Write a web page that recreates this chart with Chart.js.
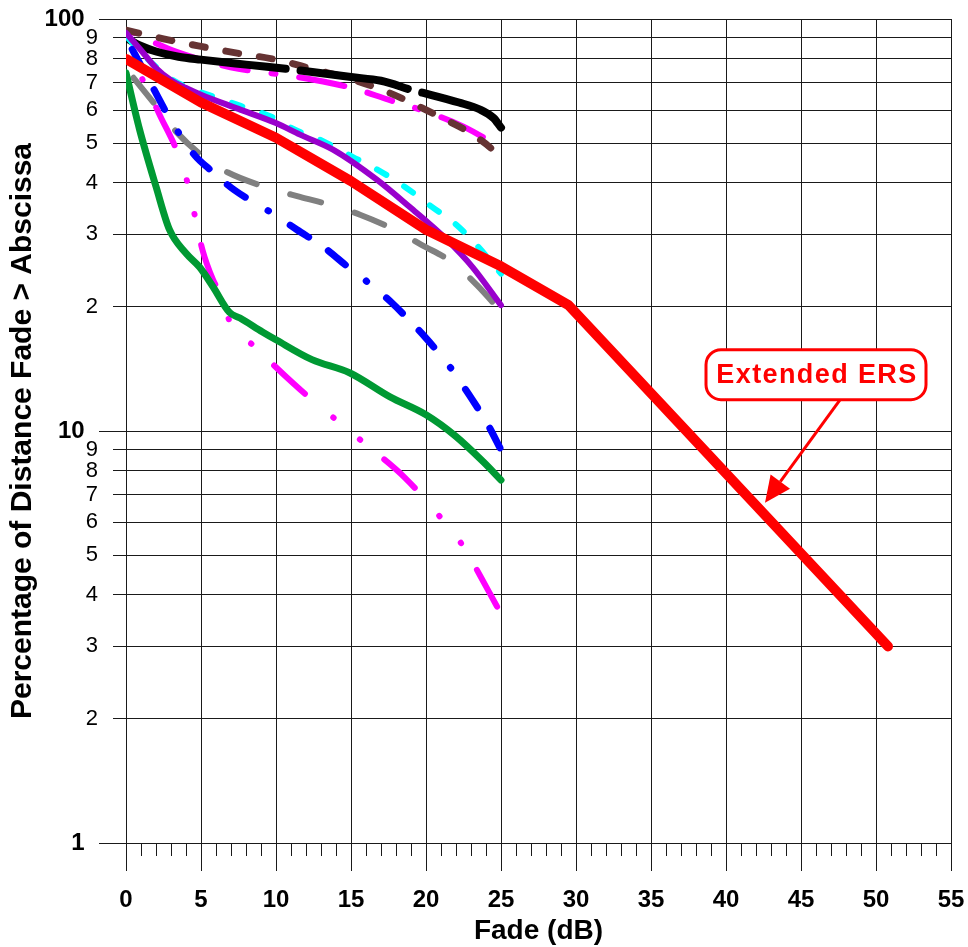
<!DOCTYPE html>
<html>
<head>
<meta charset="utf-8">
<title>Fade distribution</title>
<script src="https://cdn.jsdelivr.net/npm/chart.js@4.4.1/dist/chart.umd.min.js"></script>
<style>
  html, body { margin: 0; padding: 0; background: #fff; }
  canvas { display: block; }
</style>
</head>
<body>
<canvas id="fadeChart" width="968" height="947"></canvas>
<script>
// Fade (dB) and % of distance with fade greater than that value, one pair per curve
const ersFade = [0, 5, 10, 15, 20, 25, 29.5, 50.8];
const ersPct = [80, 62.7, 51.5, 40.4, 30.8, 25.1, 20.2, 3];

const blackFade = [0, 1, 2, 3.5, 5, 8, 11.2, 15, 17, 19.2, 20, 22.2, 23.6, 24.5, 25];
const blackPct = [90, 86, 83.4, 81, 79.7, 77.5, 75.3, 72.3, 70.8, 67, 65.9, 62.7, 60.3, 57.5, 54.5];

const brownFade = [0, 2.5, 5, 7.5, 10, 12.5, 15, 17.2, 18.8, 20.9, 22.9, 24.7, 25];
const brownPct = [94, 89.5, 85.8, 82.5, 79.7, 75.5, 71.5, 67, 63.2, 57.9, 53, 47.1, 45.5];

const pinkFade = [0, 1.5, 3, 5, 7.5, 10, 12.5, 15, 17.5, 20, 22.5, 25];
const pinkPct = [94.5, 89, 84.2, 79.7, 75.7, 73.6, 71.2, 68.1, 63.7, 59.6, 54.8, 48.7];

const cyanFade = [0, 1, 2, 3, 4, 4.9, 7.6, 9.7, 11.2, 13.2, 15.1, 16.9, 18.6, 20.3, 22, 23.4, 25];
const cyanPct = [91, 83, 76.5, 71.5, 68.5, 66.6, 61.6, 57.9, 54, 50.4, 46.3, 42.8, 39.1, 35.2, 31.7, 28.2, 24.1];

const purpleFade = [0, 1, 2, 3, 4, 5, 7.5, 10, 11.6, 13.8, 16.7, 18.9, 21.4, 23.1, 25];
const purplePct = [92.5, 84, 76, 71, 68, 65.5, 60.5, 55.9, 52.4, 48.2, 40.8, 35, 29.1, 25, 20.2];

const grayFade = [0.5, 2.2, 3.4, 5.4, 6.8, 9.2, 11.6, 13.6, 15.6, 17.9, 19.7, 21.8, 23.4, 25];
const grayPct = [72, 60.3, 53, 45.6, 42.4, 39.2, 37, 35.4, 33.5, 30.8, 28.3, 25.6, 22.6, 19.5];

const blueFade = [0, 1.8, 2.9, 4.6, 5.6, 7.2, 9.4, 11.4, 13.2, 14.8, 15.9, 17.7, 20, 21.6, 22.9, 24.1, 25];
const bluePct = [90, 68.1, 57.5, 46.6, 43.1, 38.5, 34.4, 30.8, 27.9, 25, 23.3, 20.5, 16.8, 14.3, 12.2, 10.4, 9];

const magentaFade = [0, 0.7, 2.2, 3.9, 4.4, 5.1, 5.8, 6.4, 6.9, 8.6, 11.2, 12.4, 14, 15.8, 18.6, 21, 22.4, 24.2, 25];
const magentaPct = [84, 76, 59, 42.6, 35.8, 27.5, 23.3, 21.2, 18.5, 16, 13, 11.9, 10.65, 9.4, 7.7, 6.15, 5.3, 4.07, 3.6];

const greenFade = [0, 0.9, 2, 2.9, 4, 4.9, 5.8, 6.9, 7.6, 9.1, 10, 12.4, 14.9, 17.6, 20, 22, 23.8, 25];
const greenPct = [74, 54, 39.2, 30.8, 27, 25, 22.4, 19.4, 18.8, 17.4, 16.65, 14.9, 13.85, 12.1, 10.95, 9.7, 8.43, 7.6];

// axis ticks
const xTicks = [0, 5, 10, 15, 20, 25, 30, 35, 40, 45, 50, 55];
const yTicks = [1, 2, 3, 4, 5, 6, 7, 8, 9, 10, 20, 30, 40, 50, 60, 70, 80, 90, 100];
const yDecades = [1, 10, 100];

// callout for the extended curve (box centre, arrow start, arrow tip)
const calloutText = 'Extended ERS';
const calloutAt = { fade: 46, pct: 13.7 };
const arrowFrom = { fade: 47.6, pct: 11.9 };
const arrowTo = { fade: 42.6, pct: 6.7 };

const FONT = "'Liberation Sans', Arial, Helvetica, sans-serif";
const GRID = '#1a1a1a';

function toPoints(xs, ys) {
    return xs.map((x, i) => ({ x: x, y: ys[i] }));
}

function curve(xs, ys, color, width, dash, dashOffset, smooth) {
    return {
        data: toPoints(xs, ys),
        borderColor: color,
        backgroundColor: color,
        borderWidth: width,
        borderDash: dash,
        borderDashOffset: dashOffset,
        borderCapStyle: 'round',
        borderJoinStyle: 'round',
        cubicInterpolationMode: smooth ? 'monotone' : 'default',
        tension: 0,
        pointRadius: 0,
        fill: false
    };
}

function snap(p) {
    return Math.round(p - 0.5) + 0.5;
}

// keep the plot box fixed: no extra room for overhanging tick labels
function noOverhang(s) {
    s.paddingLeft = 0;
    s.paddingRight = 0;
    s.paddingTop = 0;
    s.paddingBottom = 0;
}

// short tick marks under the x axis (every dB) and left of the y axis
const axisTicks = {
    id: 'axisTicks',
    afterDraw(chart) {
        const { ctx, chartArea, scales } = chart;
        ctx.save();
        ctx.strokeStyle = GRID;
        ctx.lineWidth = 1;
        ctx.beginPath();
        for (let v = 0; v <= 55; v++) {
            const px = snap(scales.x.getPixelForValue(v));
            const len = v % 5 === 0 ? 28 : 13;
            ctx.moveTo(px, chartArea.bottom);
            ctx.lineTo(px, chartArea.bottom + len);
        }
        yTicks.forEach(v => {
            const py = snap(scales.y.getPixelForValue(v));
            const len = yDecades.includes(v) ? 27 : 13;
            ctx.moveTo(chartArea.left - len, py);
            ctx.lineTo(chartArea.left, py);
        });
        ctx.stroke();
        ctx.restore();
    }
};

// rounded label with an arrow pointing at the red curve
const callout = {
    id: 'callout',
    afterDatasetsDraw(chart) {
        const { ctx, scales: { x, y } } = chart;
        const cx = x.getPixelForValue(calloutAt.fade), cy = y.getPixelForValue(calloutAt.pct);
        const ax = x.getPixelForValue(arrowFrom.fade), ay = y.getPixelForValue(arrowFrom.pct);
        const tx = x.getPixelForValue(arrowTo.fade), ty = y.getPixelForValue(arrowTo.pct);
        const ang = Math.atan2(ty - ay, tx - ax);
        const headLen = 26, headHalf = 12;
        const bx = tx - headLen * Math.cos(ang), by = ty - headLen * Math.sin(ang);

        ctx.save();
        ctx.strokeStyle = '#ff0000';
        ctx.fillStyle = '#ff0000';
        ctx.lineWidth = 3;
        ctx.beginPath();
        ctx.moveTo(ax, ay);
        ctx.lineTo(bx, by);
        ctx.stroke();
        ctx.beginPath();
        ctx.moveTo(tx, ty);
        ctx.lineTo(bx + headHalf * Math.sin(ang), by - headHalf * Math.cos(ang));
        ctx.lineTo(bx - headHalf * Math.sin(ang), by + headHalf * Math.cos(ang));
        ctx.closePath();
        ctx.fill();

        const w = 220, h = 50;
        ctx.beginPath();
        ctx.roundRect(cx - w / 2, cy - h / 2, w, h, 15);
        ctx.fillStyle = '#ffffff';
        ctx.fill();
        ctx.stroke();
        ctx.fillStyle = '#ff0000';
        ctx.font = 'bold 27px ' + FONT;
        ctx.letterSpacing = '1.4px';
        ctx.textAlign = 'center';
        ctx.textBaseline = 'middle';
        ctx.fillText(calloutText, cx + 1, cy + 1);
        ctx.restore();
    }
};

const ctx = document.getElementById('fadeChart').getContext('2d');
new Chart(ctx, {
    type: 'line',
    data: {
        // first dataset ends up on top
        datasets: [
            curve(ersFade, ersPct, '#ff0000', 10, [], 0, false),
            curve(purpleFade, purplePct, '#9900cc', 6, [], 0, true),
            curve(greenFade, greenPct, '#009933', 7, [], 0, true),
            curve(blueFade, bluePct, '#0000ff', 7, [22, 24, 22, 26.5, 0.5, 26], 108, true),
            curve(magentaFade, magentaPct, '#ff00ff', 6, [42, 37, 0.5, 34, 0.5, 31], 80, true),
            curve(grayFade, grayPct, '#808080', 6, [32, 35], 0, true),
            curve(cyanFade, cyanPct, '#00ffff', 6, [11, 21], 0, true),
            curve(blackFade, blackPct, '#000000', 8, [164, 15, 109, 15], 0, true),
            curve(brownFade, brownPct, '#663333', 7, [13, 21], 0, true),
            curve(pinkFade, pinkPct, '#ff00ff', 6, [46, 24, 26, 24, 4, 24], 115, true)
        ]
    },
    options: {
        responsive: false,
        animation: false,
        devicePixelRatio: 1,
        layout: { padding: { left: 0, top: 19, right: 17, bottom: 0 } },
        plugins: {
            legend: { display: false },
            tooltip: { enabled: false }
        },
        scales: {
            x: {
                type: 'linear',
                min: 0,
                max: 55,
                afterBuildTicks: s => { s.ticks = xTicks.map(v => ({ value: v })); },
                afterFit: s => { s.height = 104; noOverhang(s); },
                ticks: {
                    color: '#000',
                    font: { family: FONT, size: 24, weight: 'bold' },
                    padding: 43,
                    autoSkip: false,
                    maxRotation: 0
                },
                grid: { color: GRID, lineWidth: 1, drawTicks: false },
                border: { color: GRID, width: 1 },
                title: {
                    display: true,
                    text: 'Fade (dB)',
                    color: '#000',
                    font: { family: FONT, size: 28, weight: 'bold' },
                    padding: { top: 0, bottom: -1 }
                }
            },
            y: {
                type: 'logarithmic',
                min: 1,
                max: 100,
                afterBuildTicks: s => { s.ticks = yTicks.map(v => ({ value: v })); },
                afterFit: s => { s.width = 126; noOverhang(s); },
                ticks: {
                    color: '#000',
                    autoSkip: false,
                    padding: 28,
                    callback: v => yDecades.includes(v) ? v + '  ' : String(v).charAt(0),
                    font: c => yDecades.includes(c.tick && c.tick.value)
                        ? { family: FONT, size: 24, weight: 'bold' }
                        : { family: FONT, size: 22, weight: 'normal' }
                },
                grid: { color: GRID, lineWidth: 1, drawTicks: false },
                border: { color: GRID, width: 1 },
                title: {
                    display: true,
                    text: 'Percentage of Distance Fade > Abscissa',
                    color: '#000',
                    font: { family: FONT, size: 30, weight: 'bold' },
                    padding: { top: 5, bottom: 0 }
                }
            }
        }
    },
    plugins: [axisTicks, callout]
});
</script>
</body>
</html>
